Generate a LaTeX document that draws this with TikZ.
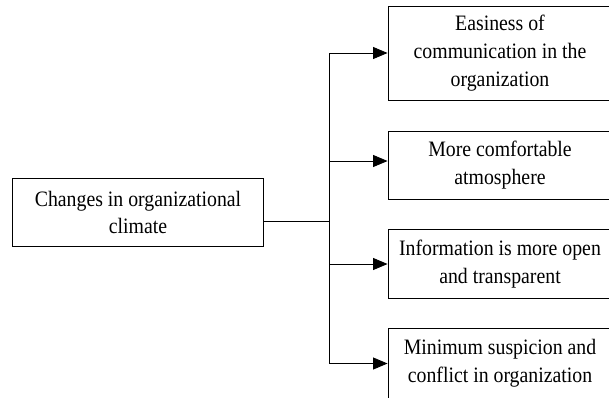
\documentclass[tikz,border=0pt]{standalone}
\usepackage{fontspec}
\setmainfont{Liberation Serif}[FakeStretch=0.9]
\usepackage{tikz}
\usetikzlibrary{arrows.meta}
\usetikzlibrary{positioning}

\begin{document}
\begin{tikzpicture}[x=1pt, y=-1pt, line width=0.9pt,
                    >={Triangle[length=14.5pt, width=12pt]}]
	\clip (0,0) rectangle (609,397);
	\begin{scope}[every node/.style={rectangle, draw, align=center, inner sep=0pt,
	              font=\fontsize{22}{27.7}\selectfont}]
	    	\node[minimum width=251pt, minimum height=68pt] (climate) at (138,212.5) {Changes in organizational\\climate};
	    	\node[minimum width=224pt, minimum height=94pt] (ease) at (500,53) {Easiness of\\communication in the\\organization};
	    	\node[minimum width=224pt, minimum height=68pt] (comfort) at (500,165) {More comfortable\\atmosphere};
	    	\node[minimum width=224pt, minimum height=69pt] (info) at (500,264) {Information is more open\\and transparent};
	    	\node[minimum width=224pt, minimum height=70pt] (suspicion) at (500,363.5) {Minimum suspicion and\\conflict in organization};
	\end{scope}

	\coordinate (split) at (329.5,221);
	\coordinate (a2) at (329.5,161);

	\draw (split -| climate.east) -- (split);
	\draw[->] (split) |- (ease.west);
	\draw[->] (a2) -- (a2 -| comfort.west);
	\draw[->] (split) |- (info.west);
	\draw[->] (split) |- (suspicion.west);
\end{tikzpicture}
\end{document}
